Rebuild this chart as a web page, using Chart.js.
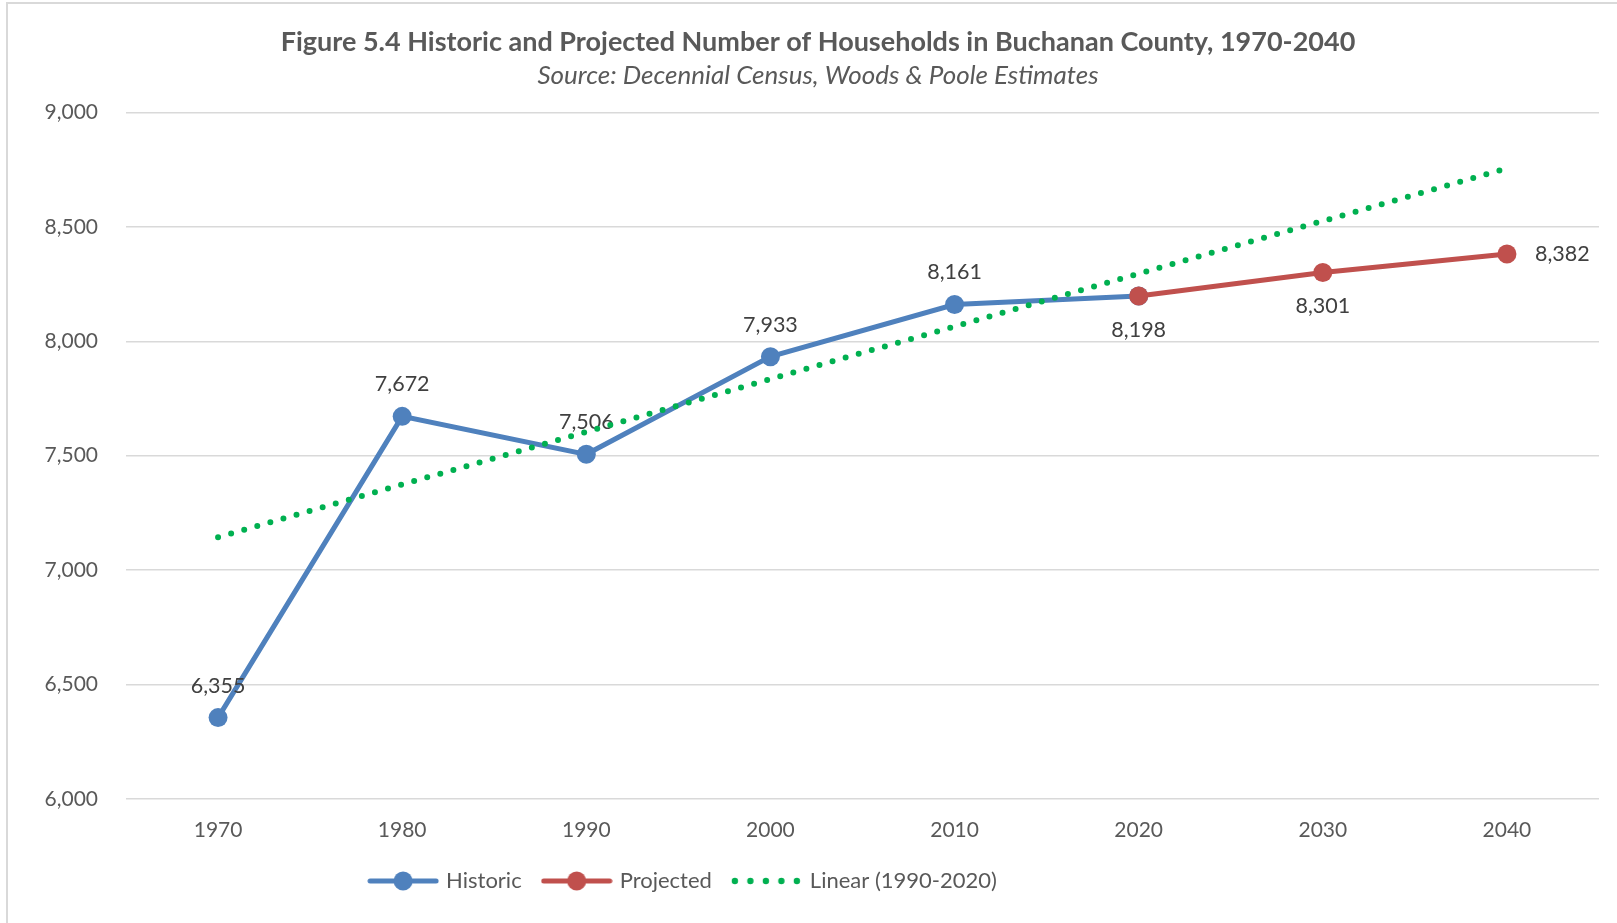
<!DOCTYPE html>
<html lang="en">
<head>
    <meta charset="UTF-8">
    <title>Households in Buchanan County, 1970-2040</title>
    <script src="https://cdn.jsdelivr.net/npm/chart.js"></script>
    <style>
        html, body {
            margin: 0;
            padding: 0;
            background-color: #ffffff;
        }
        #wrap {
            width: 1617px;
            height: 923px;
        }
    </style>
</head>
<body>
    <div id="wrap">
        <canvas id="grafico"></canvas>
    </div>

    <script>
        // Datos
        const years = ['1970', '1980', '1990', '2000', '2010', '2020', '2030', '2040'];
        const historic = [6355, 7672, 7506, 7933, 8161, 8198, null, null];
        const projected = [null, null, null, null, null, 8198, 8301, 8382];
        const linearTrend = [7143, 7374, 7604, 7835, 8065, 8296, 8526, 8756];
        const yTicks = [6000, 6500, 7000, 7500, 8000, 8500, 9000];

        // donde va cada etiqueta (null = sin etiqueta)
        const historicLabelPos = ['above', 'above', 'above', 'above', 'above', null, null, null];
        const projectedLabelPos = [null, null, null, null, null, 'below', 'below', 'right'];

        const BLUE = '#4f81bd';
        const RED = '#c0504d';
        const GREEN = '#00b050';
        const FONT = 'Lato, "Open Sans", sans-serif';

        // iconos de la leyenda (linea + marcador)
        function lineIcon(color) {
            const c = document.createElement('canvas');
            c.width = 72; c.height = 22;
            const g = c.getContext('2d');
            g.strokeStyle = color;
            g.lineWidth = 5;
            g.lineCap = 'round';
            g.beginPath();
            g.moveTo(3, 11); g.lineTo(69, 11);
            g.stroke();
            g.fillStyle = color;
            g.beginPath();
            g.arc(36, 11, 9.5, 0, Math.PI * 2);
            g.fill();
            return c;
        }
        function dotIcon(color) {
            const c = document.createElement('canvas');
            c.width = 72; c.height = 22;
            const g = c.getContext('2d');
            g.fillStyle = color;
            for (let i = 0; i < 5; i++) {
                g.beginPath();
                g.arc(4 + i * 15.5, 11, 3.2, 0, Math.PI * 2);
                g.fill();
            }
            return c;
        }

        const frame = {
            id: 'frame',
            beforeDraw(chart) {
                const ctx = chart.ctx;
                ctx.save();
                ctx.strokeStyle = '#d9d9d9';
                ctx.lineWidth = 2;
                ctx.beginPath();
                ctx.moveTo(7, chart.height);
                ctx.lineTo(7, 3);
                ctx.lineTo(chart.width, 3);
                ctx.stroke();
                ctx.restore();
            }
        };

        // la leyenda del original no esta centrada
        const legendShift = {
            id: 'legendShift',
            afterLayout(chart) {
                const lg = chart.legend;
                lg.left -= 134; lg.right -= 134;
                lg.top -= 7; lg.bottom -= 7;
            }
        };

        const dataLabels = {
            id: 'dataLabels',
            afterDatasetDraw(chart, args) {
                const ds = chart.data.datasets[args.index];
                if (!ds.labelPos) return;
                const ctx = chart.ctx;
                ctx.save();
                ctx.font = '21.5px ' + FONT;
                ctx.fillStyle = '#404040';
                ctx.textBaseline = 'middle';
                args.meta.data.forEach((pt, i) => {
                    const pos = ds.labelPos[i];
                    if (!pos || ds.data[i] == null) return;
                    const txt = ds.data[i].toLocaleString('en-US');
                    if (pos === 'above') {
                        ctx.textAlign = 'center';
                        ctx.fillText(txt, pt.x, pt.y - 32);
                    } else if (pos === 'below') {
                        ctx.textAlign = 'center';
                        ctx.fillText(txt, pt.x, pt.y + 34);
                    } else {
                        ctx.textAlign = 'left';
                        ctx.fillText(txt, pt.x + 28, pt.y);
                    }
                });
                ctx.restore();
            }
        };

        new Chart(document.getElementById('grafico').getContext('2d'), {
            type: 'line',
            data: {
                labels: years,
                datasets: [
                    {
                        label: 'Historic', data: historic, order: 2,
                        borderColor: BLUE, backgroundColor: BLUE, borderWidth: 5,
                        pointRadius: 9.5, pointHoverRadius: 9.5, pointBorderWidth: 0,
                        labelPos: historicLabelPos
                    },
                    {
                        label: 'Projected', data: projected, order: 1,
                        borderColor: RED, backgroundColor: RED, borderWidth: 5,
                        pointRadius: 9.5, pointHoverRadius: 9.5, pointBorderWidth: 0,
                        labelPos: projectedLabelPos
                    },
                    {
                        label: 'Linear (1990-2020)', data: linearTrend, order: 0,
                        borderColor: GREEN, borderWidth: 6, borderDash: [0, 13.6],
                        borderCapStyle: 'round', pointRadius: 0
                    }
                ]
            },
            options: {
                responsive: true,
                maintainAspectRatio: false,
                animation: false,
                layout: { padding: { left: 37, right: 18, top: 0, bottom: 14 } },
                elements: { line: { tension: 0 } },
                scales: {
                    x: {
                        offset: true,
                        grid: { display: false },
                        border: { display: false },
                        ticks: { color: '#595959', font: { family: FONT, size: 21 }, padding: 11 }
                    },
                    y: {
                        min: 6000, max: 9000,
                        afterFit(s) { s.width = 89; },
                        afterBuildTicks(s) { s.ticks = yTicks.map(v => ({ value: v })); },
                        grid: { color: '#d9d9d9', lineWidth: 1.5, drawTicks: false },
                        border: { display: false },
                        ticks: {
                            color: '#595959', font: { family: FONT, size: 21 }, padding: 28,
                            callback: v => v.toLocaleString('en-US')
                        }
                    }
                },
                plugins: {
                    tooltip: { enabled: false },
                    title: {
                        display: true,
                        text: 'Figure 5.4 Historic and Projected Number of Households in Buchanan County, 1970-2040',
                        color: '#595959',
                        font: { family: FONT, size: 27, weight: 'bold' },
                        padding: { top: 26, bottom: 2 }
                    },
                    subtitle: {
                        display: true,
                        text: 'Source: Decennial Census, Woods & Poole Estimates',
                        color: '#595959',
                        font: { family: FONT, size: 26, style: 'italic' },
                        padding: { top: 0, bottom: 21 }
                    },
                    legend: {
                        position: 'bottom',
                        labels: {
                            color: '#595959',
                            font: { family: FONT, size: 22 },
                            usePointStyle: true,
                            pointStyleWidth: 64,
                            padding: 23,
                            generateLabels: chart => chart.data.datasets.map((ds, i) => ({
                                text: ds.label,
                                datasetIndex: i,
                                fontColor: '#595959',
                                pointStyle: i === 2 ? dotIcon(GREEN) : lineIcon(ds.borderColor),
                                hidden: false,
                                lineWidth: 0
                            }))
                        }
                    }
                }
            },
            plugins: [frame, legendShift, dataLabels]
        });
    </script>
</body>
</html>
